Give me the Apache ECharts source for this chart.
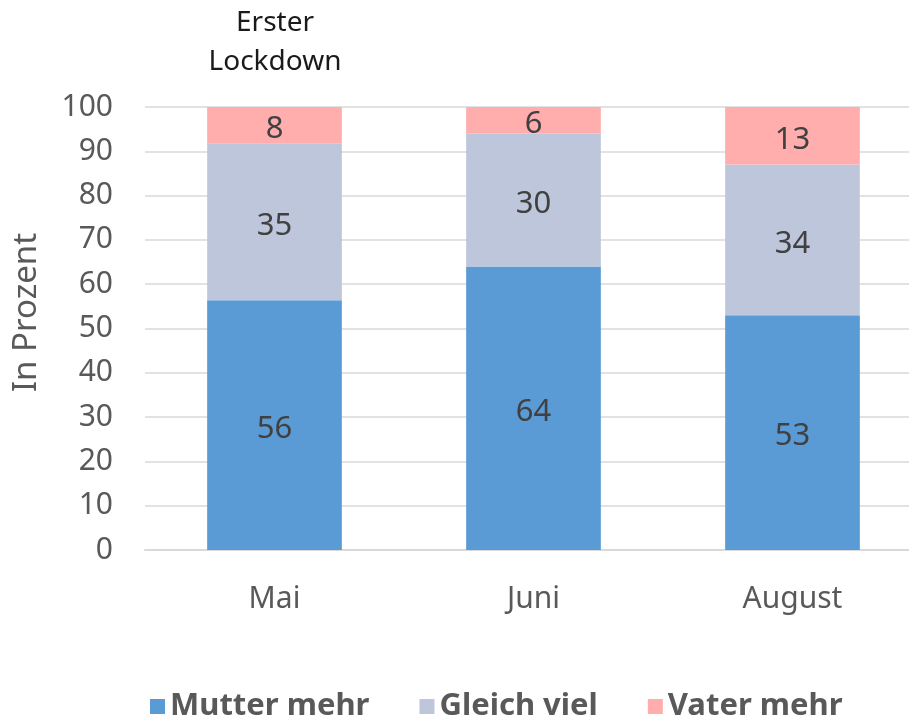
<!DOCTYPE html>
<html>
<head>
<meta charset="utf-8">
<script src="https://cdn.jsdelivr.net/npm/echarts@6/dist/echarts.min.js"></script>
<style>
  html, body { margin: 0; padding: 0; background: #fff; }
  #main { width: 909px; height: 719px; }
</style>
</head>
<body>
<div id="main"></div>
<script>
var months = ['Mai', 'Juni', 'August'];
var mutterMehr = [56.4, 64, 53];
var gleichViel = [35.4, 30, 34];
var vaterMehr = [8.2, 6, 13];
var yTicks = [0, 10, 20, 30, 40, 50, 60, 70, 80, 90, 100];

var FONT = '"Noto Sans", "Open Sans", sans-serif';

function barSeries(name, data, color) {
  return {
    name: name,
    type: 'bar',
    stack: 'total',
    data: data,
    barWidth: '52%',
    itemStyle: { color: color },
    label: {
      show: true,
      position: 'inside',
      offset: [0, 4],
      color: '#404040',
      fontFamily: FONT,
      fontSize: 31,
      formatter: function (p) { return Math.round(p.value); }
    }
  };
}

var myChart = echarts.init(document.getElementById('main'));
myChart.setOption({
  animation: false,
  grid: { left: 145, width: 777, top: 107, bottom: 169, outerBoundsMode: 'none' },
  graphic: [{
    type: 'text',
    x: 275,
    y: 43,
    style: {
      text: 'Erster\nLockdown',
      fontFamily: FONT,
      fontSize: 28,
      lineHeight: 39,
      fill: '#1a1a1a',
      align: 'center',
      verticalAlign: 'middle'
    }
  }],
  legend: {
    top: 686,
    left: 145,
    itemWidth: 15,
    itemHeight: 15,
    itemGap: 50,
    icon: 'rect',
    textStyle: { color: '#595959', fontFamily: FONT, fontSize: 31, fontWeight: 'bold' },
    data: ['Mutter mehr', 'Gleich viel', 'Vater mehr']
  },
  xAxis: {
    type: 'category',
    data: months,
    axisLine: { lineStyle: { color: '#d9d9d9', width: 2 } },
    axisTick: { show: false },
    axisLabel: { color: '#595959', fontFamily: FONT, fontSize: 30, margin: 34 }
  },
  yAxis: {
    type: 'value',
    min: yTicks[0],
    max: yTicks[yTicks.length - 1],
    interval: 10,
    name: 'In Prozent',
    nameLocation: 'middle',
    nameGap: 102,
    nameTextStyle: { color: '#595959', fontFamily: FONT, fontSize: 33, padding: [0, 0, 0, 32] },
    axisLine: { show: false },
    axisTick: { show: false },
    axisLabel: { color: '#595959', fontFamily: FONT, fontSize: 30, margin: 32 },
    splitLine: { lineStyle: { color: '#d9d9d9', width: 1.5 } }
  },
  series: [
    barSeries('Mutter mehr', mutterMehr, '#5b9bd5'),
    barSeries('Gleich viel', gleichViel, '#bdc6db'),
    barSeries('Vater mehr', vaterMehr, '#ffadad')
  ]
});
</script>
</body>
</html>
